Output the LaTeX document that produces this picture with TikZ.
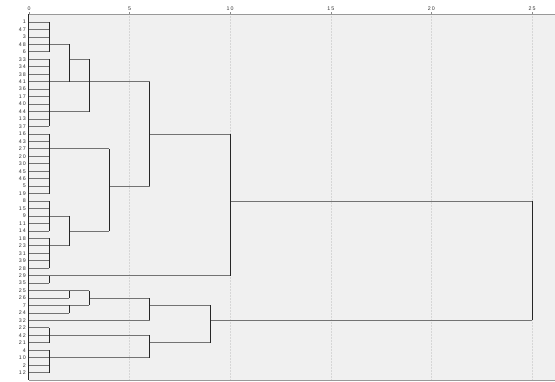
\documentclass[tikz,border=0pt]{standalone}
\usepackage{fontspec}
\setmainfont{Liberation Sans}
\newfontfamily\tinyfont[LetterSpace=20]{Liberation Sans}
\begin{document}
\begin{tikzpicture}[x=1pt, y=-1pt]

	% Styles for labels and branches
	\tikzstyle{leaf} = [anchor=east, inner sep=0pt, text=black!80,
	font=\tinyfont\fontsize{5.3}{5.3}\selectfont]
	\tikzstyle{scalelabel} = [anchor=south, inner sep=0pt, text=black!80,
	font=\tinyfont\fontsize{5.3}{5.3}\selectfont]
	\tikzstyle{hbranch} = [draw=black!55, line width=0.75pt]
	\tikzstyle{vbranch} = [draw=black!85, line width=0.85pt]
	\tikzstyle{gridline} = [draw=black!16, densely dotted, line width=0.5pt]

	\useasboundingbox (0,0) rectangle (555,381);

	% Plot area and distance scale
	\fill[black!6] (29,14.3) rectangle (555,380);
	\foreach \d in {0,1,2,3,4,5,6,9,10,15,20,25}
		\coordinate (c\d) at (29+20.12*\d,14.3);
	\foreach \d in {5,10,...,25}
		\draw[gridline] (c\d) -- ++(0,365.7);
	\foreach \d in {0,5,10,...,25} {
		\node[scalelabel] (t\d) at ([yshift=3.5pt]c\d) {\d};
		\draw[black!45, line width=0.5pt] (c\d) -- ++(0,-2.6);
	}
	\draw[black!40, line width=0.7pt] (c0) -- (555,14.3);
	\draw[black!40, line width=0.7pt] (29,380) -- (555,380);

	% Cases
	\foreach \lab [count=\i from 0] in {1,47,3,48,6,33,34,38,41,36,17,40,44,13,37,
		16,43,27,20,30,45,46,5,19,8,15,9,11,14,18,23,31,39,28,29,35,
		25,26,7,24,32,22,42,21,4,10,2,12} {
		\node[leaf] (n\lab) at (26,22+7.46*\i) {\lab};
		\draw[hbranch] (n\lab -| c0) -- (n\lab -| c1);
	}
	\draw[black!85, line width=0.9pt] (28.7,14) -- (28.7,380);

	% Horizontal branches
	\draw[hbranch] (n48 -| c1) -- (n48 -| c2);
	\draw[hbranch] (n33 -| c2) -- (n33 -| c3);
	\draw[hbranch] (n41 -| c1) -- (n41 -| c6);
	\draw[hbranch] (n44 -| c1) -- (n44 -| c3);
	\draw[hbranch] (n16 -| c6) -- (n16 -| c10);
	\draw[hbranch] (n27 -| c1) -- (n27 -| c4);
	\draw[hbranch] (n5 -| c4) -- (n5 -| c6);
	\draw[hbranch] (n8 -| c10) -- (n8 -| c25);
	\draw[hbranch] (n9 -| c1) -- (n9 -| c2);
	\draw[hbranch] (n14 -| c2) -- (n14 -| c4);
	\draw[hbranch] (n23 -| c1) -- (n23 -| c2);
	\draw[hbranch] (n29 -| c1) -- (n29 -| c10);
	\draw[hbranch] (n25 -| c1) -- (n25 -| c3);
	\draw[hbranch] (n26 -| c1) -- (n26 -| c2);
	\draw[hbranch] (n26 -| c3) -- (n26 -| c6);
	\draw[hbranch] (n7 -| c1) -- (n7 -| c3);
	\draw[hbranch] (n7 -| c6) -- (n7 -| c9);
	\draw[hbranch] (n24 -| c1) -- (n24 -| c2);
	\draw[hbranch] (n32 -| c1) -- (n32 -| c6);
	\draw[hbranch] (n32 -| c9) -- (n32 -| c25);
	\draw[hbranch] (n42 -| c1) -- (n42 -| c6);
	\draw[hbranch] (n21 -| c6) -- (n21 -| c9);
	\draw[hbranch] (n10 -| c1) -- (n10 -| c6);

	% Vertical joins
	\draw[vbranch] (n1 -| c1) -- (n6 -| c1);
	\draw[vbranch] (n33 -| c1) -- (n37 -| c1);
	\draw[vbranch] (n16 -| c1) -- (n19 -| c1);
	\draw[vbranch] (n8 -| c1) -- (n14 -| c1);
	\draw[vbranch] (n18 -| c1) -- (n28 -| c1);
	\draw[vbranch] (n29 -| c1) -- (n35 -| c1);
	\draw[vbranch] (n22 -| c1) -- (n21 -| c1);
	\draw[vbranch] (n4 -| c1) -- (n12 -| c1);
	\draw[vbranch] (n48 -| c2) -- (n41 -| c2);
	\draw[vbranch] (n9 -| c2) -- (n23 -| c2);
	\draw[vbranch] (n25 -| c2) -- (n26 -| c2);
	\draw[vbranch] (n7 -| c2) -- (n24 -| c2);
	\draw[vbranch] (n33 -| c3) -- (n44 -| c3);
	\draw[vbranch] (n25 -| c3) -- (n7 -| c3);
	\draw[vbranch] (n27 -| c4) -- (n14 -| c4);
	\draw[vbranch] (n41 -| c6) -- (n5 -| c6);
	\draw[vbranch] (n26 -| c6) -- (n32 -| c6);
	\draw[vbranch] (n42 -| c6) -- (n10 -| c6);
	\draw[vbranch] (n7 -| c9) -- (n21 -| c9);
	\draw[vbranch] (n16 -| c10) -- (n29 -| c10);
	\draw[vbranch] (n8 -| c25) -- (n32 -| c25);

\end{tikzpicture}
\end{document}
